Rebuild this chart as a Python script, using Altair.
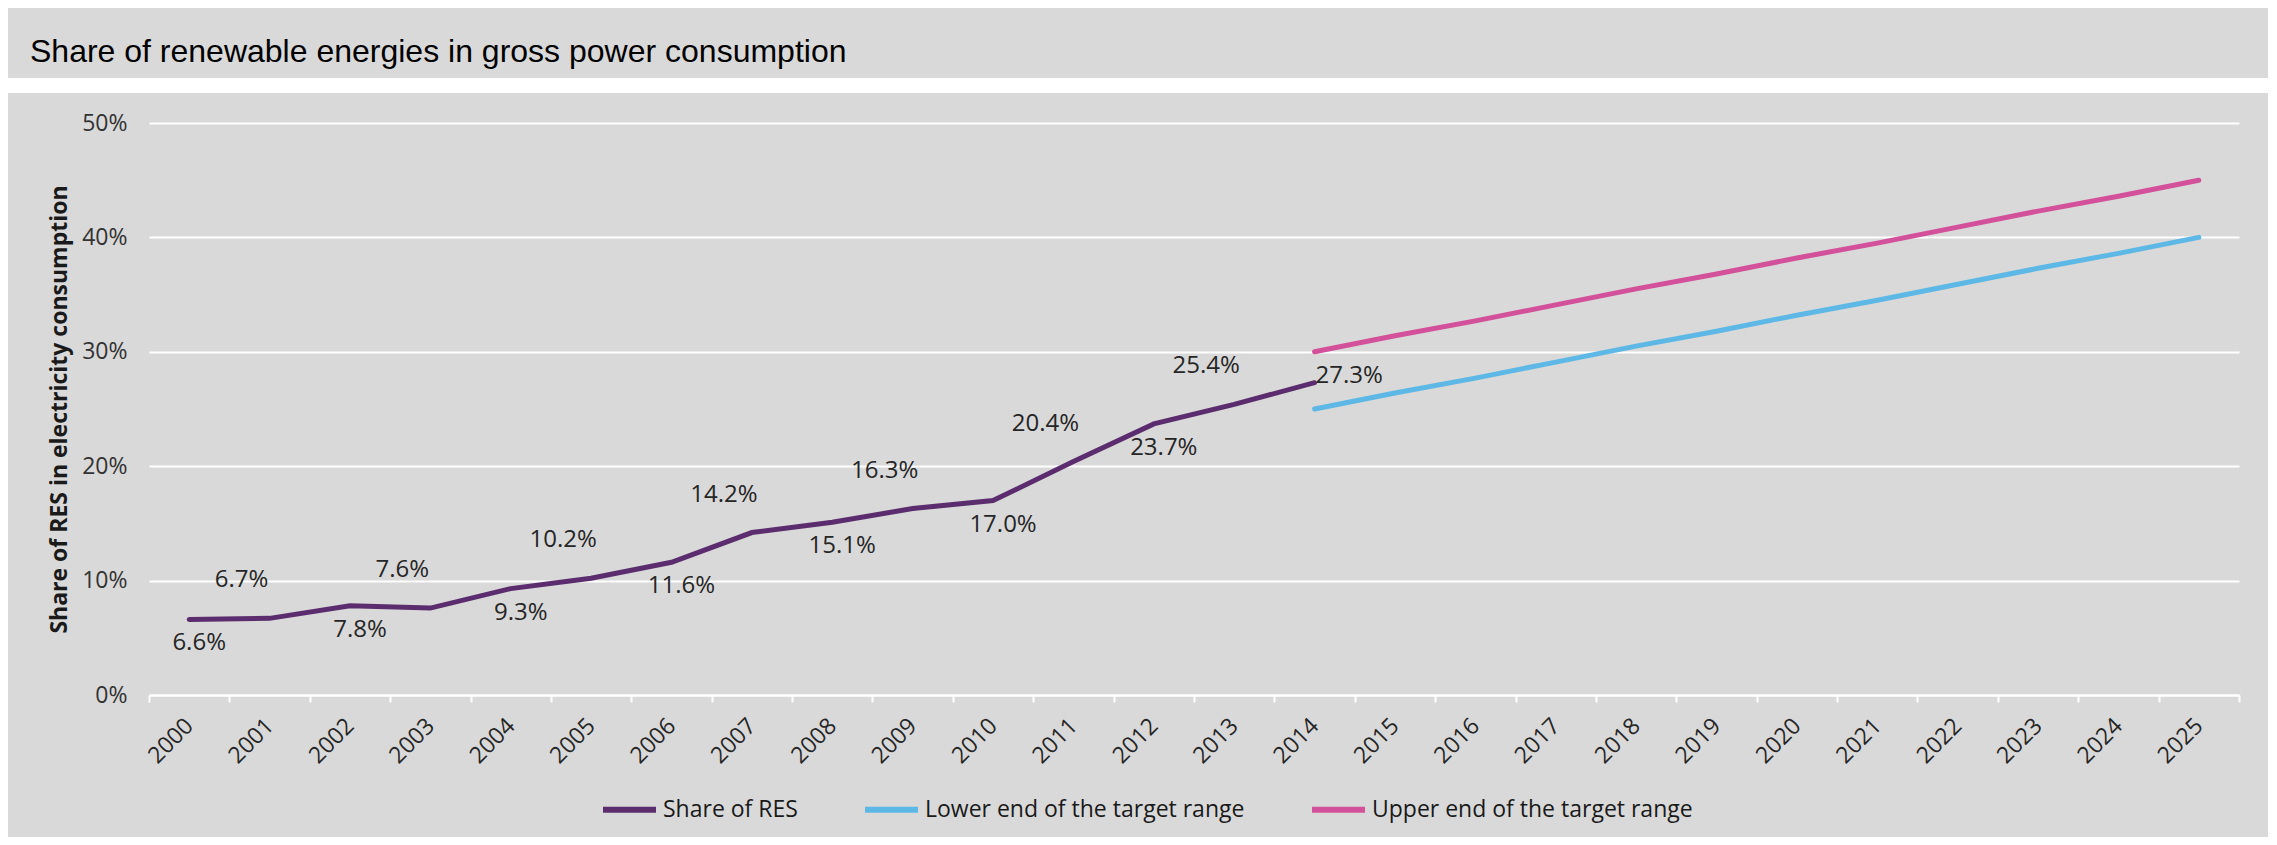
import altair as alt
import pandas as pd

# ---- data ----
years = [str(y) for y in range(2000, 2026)]

res_years = [str(y) for y in range(2000, 2015)]
res_values = [6.6, 6.7, 7.8, 7.6, 9.3, 10.2, 11.6, 14.2, 15.1, 16.3, 17.0, 20.4, 23.7, 25.4, 27.3]

target_years = [str(y) for y in range(2014, 2026)]
lower_values = [25.0, 26.4, 27.7, 29.1, 30.5, 31.8, 33.2, 34.5, 35.9, 37.3, 38.6, 40.0]
upper_values = [30.0, 31.4, 32.7, 34.1, 35.5, 36.8, 38.2, 39.5, 40.9, 42.3, 43.6, 45.0]

series_names = ["Share of RES", "Lower end of the target range", "Upper end of the target range"]
series_colors = ["#5c2d6e", "#5db8e6", "#d3509a"]

y_ticks = [0, 10, 20, 30, 40, 50]

title_text = "Share of renewable energies in gross power consumption"
y_title = "Share of RES in electricity consumption"

# ---- tables ----
rows = []
for y, v in zip(res_years, res_values):
    rows.append({"year": y, "series": series_names[0], "value": v})
for y, v in zip(target_years, lower_values):
    rows.append({"year": y, "series": series_names[1], "value": v})
for y, v in zip(target_years, upper_values):
    rows.append({"year": y, "series": series_names[2], "value": v})
df = pd.DataFrame(rows)

# label placement group (alternating below / above, last one to the right)
pos = []
for i in range(len(res_years)):
    if i == len(res_years) - 1:
        pos.append("right")
    elif i % 2 == 0:
        pos.append("below")
    else:
        pos.append("above")
df_res = pd.DataFrame({"year": res_years, "value": res_values, "pos": pos})

TICK_FONT = "Open Sans"
BG = "#d9d9d9"

x_enc = alt.X(
    "year:O",
    scale=alt.Scale(type="band", domain=years, paddingInner=0, paddingOuter=0),
    axis=alt.Axis(
        title=None,
        labelAngle=315,
        labelAlign="right",
        labelBaseline="middle",
        labelPadding=20,
        labelFontSize=23,
        labelFont=TICK_FONT,
        labelColor="#262626",
        tickBand="extent",
        tickColor="white",
        tickSize=7,
        tickWidth=2,
        domainColor="white",
        domainWidth=2,
        grid=False,
    ),
)

y_enc = alt.Y(
    "value:Q",
    scale=alt.Scale(domain=[0, 50], nice=False),
    axis=alt.Axis(
        title=y_title,
        values=y_ticks,
        labelExpr="datum.value + '%'",
        grid=True,
        gridColor="white",
        gridWidth=2,
        domain=False,
        ticks=False,
        labelPadding=22,
        labelFontSize=23,
        labelFont=TICK_FONT,
        labelColor="#333333",
        titleFont=TICK_FONT,
        titleFontSize=23,
        titleFontWeight="bold",
        titleColor="#1a1a1a",
        titlePadding=10,
    ),
)

lines = alt.Chart(df).mark_line(strokeWidth=5, strokeCap="round").encode(
    x=x_enc,
    y=y_enc,
    color=alt.Color(
        "series:N",
        scale=alt.Scale(domain=series_names, range=series_colors),
        sort=series_names,
        legend=alt.Legend(
            title=None,
            orient="none",
            legendX=451,
            legendY=657,
            direction="horizontal",
            columns=3,
            symbolType="stroke",
            symbolStrokeWidth=6,
            symbolSize=2809,
            labelFont=TICK_FONT,
            labelFontSize=23,
            labelColor="#1a1a1a",
            labelLimit=0,
            labelOffset=4,
            columnPadding=55,
        ),
    ),
    detail="series:N",
)

label_base = alt.Chart(df_res).transform_calculate(
    label="format(datum.value, '.1f') + '%'"
)

def label_layer(p, dx, dy, align):
    return label_base.transform_filter(alt.datum.pos == p).mark_text(
        dx=dx, dy=dy, align=align, baseline="middle",
        font=TICK_FONT, fontSize=24, color="#262626",
    ).encode(
        x=alt.X("year:O", scale=alt.Scale(type="band", domain=years, paddingInner=0, paddingOuter=0)),
        y=alt.Y("value:Q"),
        text="label:N",
    )

labels_below = label_layer("below", 10, 24, "center")
labels_above = label_layer("above", -28, -38, "center")
labels_right = label_layer("right", 1, -7, "left")

# white gap between title box and chart box
gap = alt.Chart(df_res).mark_rule(color="white", strokeWidth=15, clip=False).encode(
    x=alt.value(-141), x2=alt.value(2119), y=alt.value(-37.5)
)

chart = alt.layer(gap, lines, labels_below, labels_above, labels_right).properties(
    width=2090,
    height=572,
    padding={"left": 141, "top": 115, "right": 29, "bottom": 142},
    autosize=alt.AutoSizeParams(type="none"),
    background=BG,
    title=alt.TitleParams(
        text=title_text,
        anchor="start",
        frame="group",
        font="Liberation Sans",
        fontSize=32,
        fontWeight="normal",
        color="black",
        dx=-119,
        dy=32,
        offset=16,
        baseline="alphabetic",
    ),
).configure_view(stroke=None, fill=BG)

chart.save("out.html", embed_options={"renderer": "svg", "actions": False})
